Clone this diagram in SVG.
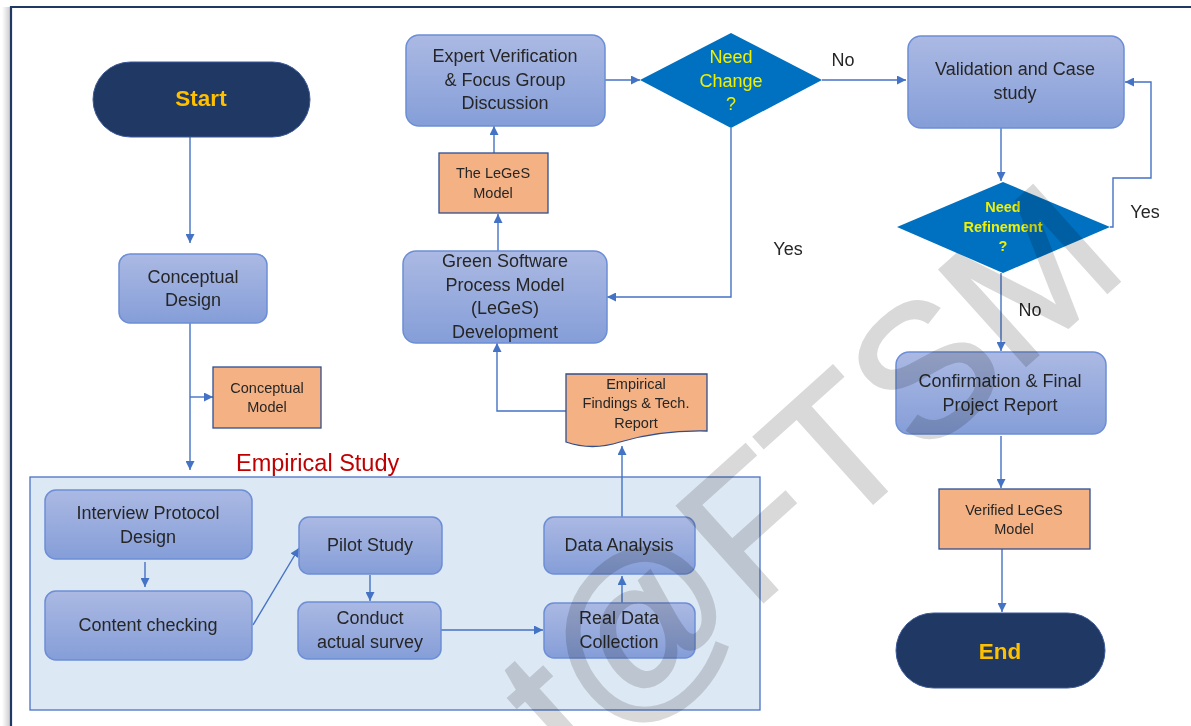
<svg xmlns="http://www.w3.org/2000/svg" width="1191" height="726" viewBox="0 0 1191 726">
<defs>
<linearGradient id="gb" x1="0" y1="0" x2="0" y2="1"><stop offset="0" stop-color="#abb9e3"/><stop offset="1" stop-color="#859ed8"/></linearGradient>
<linearGradient id="sh" x1="0" y1="0" x2="1" y2="0"><stop offset="0" stop-color="#ffffff"/><stop offset="1" stop-color="#c8c8c8"/></linearGradient>
<marker id="ah" viewBox="0 0 10 10" refX="10" refY="5" markerWidth="9" markerHeight="9" orient="auto" markerUnits="userSpaceOnUse"><path d="M0,0 L10,5 L0,10 z" fill="#4472c4"/></marker>
<style>
.box{fill:url(#gb);stroke:#6c8ed6;stroke-width:1.5}
.doc{fill:#f4b183;stroke:#2f4f8f;stroke-width:1.3}
.term{fill:#203864;stroke:#3b5998;stroke-width:1}
.dia{fill:#0070c0}
.c{fill:none;stroke:#4472c4;stroke-width:1.4;marker-end:url(#ah)}
.t{font-family:"Liberation Sans",Arial,sans-serif;font-size:18px;fill:#262626;text-anchor:middle}
.s{font-size:14.5px}
.y{fill:#f0f000}
.g{fill:#ffc000;font-weight:bold;font-size:22.5px}
.red{fill:#c00000;font-size:23.5px;text-anchor:start}
.wm{font-family:"Liberation Sans",Arial,sans-serif;font-size:187px;fill:#d9d9d9;stroke:#d9d9d9;stroke-width:3;mix-blend-mode:multiply}
</style>
</defs>
<rect width="1191" height="726" fill="#ffffff"/>
<rect x="2" y="7" width="9" height="719" fill="url(#sh)"/>
<path d="M11,730 V7 H1195" fill="none" stroke="#1f3864" stroke-width="2.2"/>

<g id="empirical-study">
<rect x="30" y="477" width="730" height="233" fill="#dde8f5" stroke="#4a72c4" stroke-width="1.3"/>
<text class="t red" x="236" y="471">Empirical Study</text>
</g>

<g id="connectors">
<path class="c" d="M190,137 V243"/>
<path class="c" d="M190,323 V470"/>
<path class="c" d="M190,397 H213"/>
<path class="c" d="M145,562 V587"/>
<path class="c" d="M253,625 L299,548"/>
<path class="c" d="M370,575 V601"/>
<path class="c" d="M441,630 H543"/>
<path class="c" d="M622,603 V576"/>
<path class="c" d="M622,517 V446"/>
<path class="c" d="M566,411 H497 V343"/>
<path class="c" d="M498,251 V214"/>
<path class="c" d="M494,153 V126"/>
<path class="c" d="M605,80 H640"/>
<path class="c" d="M822,80 H906"/>
<path class="c" d="M731,128 V297 H607"/>
<path class="c" d="M1001,128 V181"/>
<path class="c" d="M1110,227 H1113 V178 H1151 V82 H1125"/>
<path class="c" d="M1001,273 V351"/>
<path class="c" d="M1001,436 V488"/>
<path class="c" d="M1002,549 V612"/>
<text class="t" x="843" y="66">No</text>
<text class="t" x="788" y="255">Yes</text>
<text class="t" x="1145" y="218">Yes</text>
<text class="t" x="1030" y="316">No</text>
</g>

<g id="start">
<rect class="term" x="93" y="62" width="217" height="75" rx="37.5"/>
<text class="t g" x="201" y="106">Start</text>
</g>
<g id="conceptual-design">
<rect class="box" x="119" y="254" width="148" height="69" rx="11"/>
<text class="t" x="193" y="283">Conceptual</text>
<text class="t" x="193" y="306">Design</text>
</g>
<g id="conceptual-model">
<rect class="doc" x="213" y="367" width="108" height="61"/>
<text class="t s" x="267" y="393">Conceptual</text>
<text class="t s" x="267" y="412">Model</text>
</g>
<g id="interview-protocol">
<rect class="box" x="45" y="490" width="207" height="69" rx="11"/>
<text class="t" x="148" y="519">Interview Protocol</text>
<text class="t" x="148" y="543">Design</text>
</g>
<g id="content-checking">
<rect class="box" x="45" y="591" width="207" height="69" rx="11"/>
<text class="t" x="148" y="631">Content checking</text>
</g>
<g id="pilot-study">
<rect class="box" x="299" y="517" width="143" height="57" rx="10"/>
<text class="t" x="370" y="551">Pilot Study</text>
</g>
<g id="conduct-survey">
<rect class="box" x="298" y="602" width="143" height="57" rx="10"/>
<text class="t" x="370" y="624">Conduct</text>
<text class="t" x="370" y="648">actual survey</text>
</g>
<g id="real-data">
<rect class="box" x="544" y="603" width="151" height="55" rx="10"/>
<text class="t" x="619" y="624">Real Data</text>
<text class="t" x="619" y="648">Collection</text>
</g>
<g id="data-analysis">
<rect class="box" x="544" y="517" width="151" height="57" rx="10"/>
<text class="t" x="619" y="551">Data Analysis</text>
</g>
<g id="empirical-findings">
<path class="doc" d="M566,374 H707 V431 Q660,430 620,442 Q592,451 566,442 Z"/>
<text class="t s" x="636" y="389">Empirical</text>
<text class="t s" x="636" y="408">Findings &amp; Tech.</text>
<text class="t s" x="636" y="428">Report</text>
</g>
<g id="green-software">
<rect class="box" x="403" y="251" width="204" height="92" rx="13"/>
<text class="t" x="505" y="267">Green Software</text>
<text class="t" x="505" y="291">Process Model</text>
<text class="t" x="505" y="314">(LeGeS)</text>
<text class="t" x="505" y="338">Development</text>
</g>
<g id="leges-model">
<rect class="doc" x="439" y="153" width="109" height="60"/>
<text class="t s" x="493" y="178">The LeGeS</text>
<text class="t s" x="493" y="198">Model</text>
</g>
<g id="expert-verification">
<rect class="box" x="406" y="35" width="199" height="91" rx="13"/>
<text class="t" x="505" y="62">Expert Verification</text>
<text class="t" x="505" y="86">&amp; Focus Group</text>
<text class="t" x="505" y="109">Discussion</text>
</g>
<g id="need-change">
<path class="dia" d="M731,33 L822,80 L731,128 L640,80 Z"/>
<text class="t y" x="731" y="63">Need</text>
<text class="t y" x="731" y="87">Change</text>
<text class="t y" x="731" y="110">?</text>
</g>
<g id="validation">
<rect class="box" x="908" y="36" width="216" height="92" rx="13"/>
<text class="t" x="1015" y="75">Validation and Case</text>
<text class="t" x="1015" y="99">study</text>
</g>
<g id="need-refinement">
<path class="dia" d="M1003,182 L1110,227 L1003,273 L897,227 Z"/>
<text class="t y s" x="1003" y="212" font-weight="bold">Need</text>
<text class="t y s" x="1003" y="232" font-weight="bold">Refinement</text>
<text class="t y s" x="1003" y="251" font-weight="bold">?</text>
</g>
<g id="confirmation">
<rect class="box" x="896" y="352" width="210" height="82" rx="13"/>
<text class="t" x="1000" y="387">Confirmation &amp; Final</text>
<text class="t" x="1000" y="411">Project Report</text>
</g>
<g id="verified-model">
<rect class="doc" x="939" y="489" width="151" height="60"/>
<text class="t s" x="1014" y="515">Verified LeGeS</text>
<text class="t s" x="1014" y="534">Model</text>
</g>
<g id="end">
<rect class="term" x="896" y="613" width="209" height="75" rx="37.5"/>
<text class="t g" x="1000" y="659">End</text>
</g>

<text class="wm" transform="translate(641,712) rotate(-42)" x="-92" y="0">t@FTSM</text>
</svg>
